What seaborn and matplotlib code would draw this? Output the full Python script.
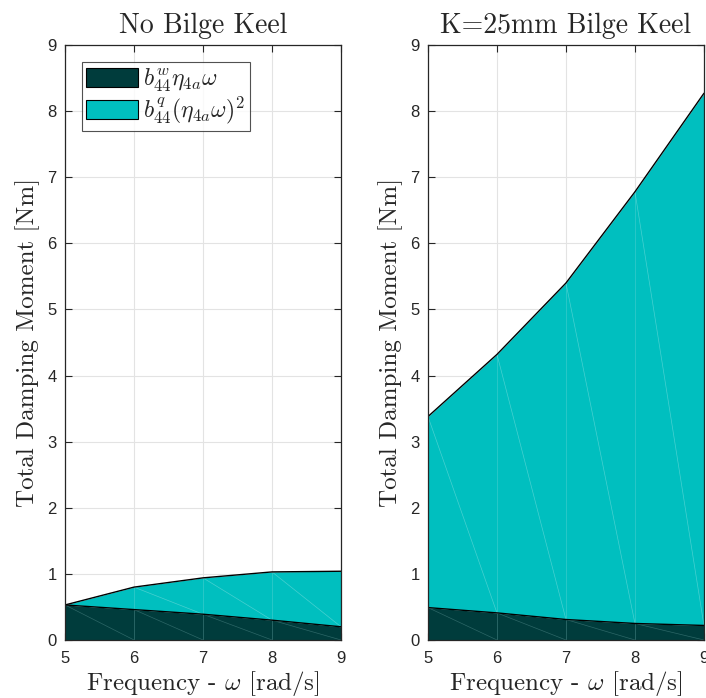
import numpy as np
import pandas as pd
import matplotlib
matplotlib.use("Agg")
import matplotlib.pyplot as plt
import seaborn as sns
from matplotlib.patches import Patch

# Roll damping moment components vs. frequency
freq = [5, 6, 7, 8, 9]
linear_no_keel = [0.53, 0.46, 0.39, 0.30, 0.20]
quad_no_keel = [0.00, 0.34, 0.55, 0.73, 0.84]
linear_keel = [0.49, 0.41, 0.31, 0.25, 0.22]
quad_keel = [2.89, 3.91, 5.09, 6.53, 8.05]

titles = ["No Bilge Keel", "K=25mm Bilge Keel"]
legend_labels = [r"$b_{44}^{w}\eta_{4a}\omega$", r"$b_{44}^{q}(\eta_{4a}\omega)^2$"]
x_label = r"Frequency - $\omega$ [rad/s]"
y_label = "Total Damping Moment [Nm]"
dark = "#003c3c"
cyan = "#00bfbf"
serif = "cmr10"

sns.set_theme(style="whitegrid")
plt.rcParams["font.family"] = ["Liberation Sans", "DejaVu Sans"]
plt.rcParams["mathtext.fontset"] = "cm"
plt.rcParams["axes.formatter.use_mathtext"] = False

frames = []
for case, lin, quad in [(titles[0], linear_no_keel, quad_no_keel),
                        (titles[1], linear_keel, quad_keel)]:
    frames.append(pd.DataFrame({"case": case, "freq": freq,
                                "linear": lin, "quad": quad}))
df = pd.concat(frames, ignore_index=True)
df["total"] = df["linear"] + df["quad"]

fig = plt.figure(figsize=(7.06, 6.98), dpi=100)
axes = [fig.add_axes([0.0921, 0.0831, 0.3909, 0.8524]),
        fig.add_axes([0.6062, 0.0831, 0.3909, 0.8524])]

for ax, case in zip(axes, titles):
    d = df[df["case"] == case]
    x = d["freq"].to_numpy()
    lin = d["linear"].to_numpy()
    tot = d["total"].to_numpy()

    ax.fill_between(x, 0, lin, color=dark, linewidth=0, zorder=2)
    ax.fill_between(x, lin, tot, color=cyan, linewidth=0, zorder=2)

    # faint triangulation seams of the stacked patches
    for i in range(len(x) - 1):
        ax.plot([x[i], x[i + 1]], [lin[i], 0], color="#7fb5b5",
                lw=0.5, alpha=0.35, zorder=3)
        ax.plot([x[i], x[i + 1]], [tot[i], lin[i + 1]], color="#9fe6e6",
                lw=0.5, alpha=0.45, zorder=3)
        if i > 0:
            ax.plot([x[i], x[i]], [0, tot[i]], color="#9fe0e0",
                    lw=0.5, alpha=0.35, zorder=3)

    sns.lineplot(x=x, y=lin, ax=ax, color="black", lw=1.0, zorder=4)
    sns.lineplot(x=x, y=tot, ax=ax, color="black", lw=1.0, zorder=4)

    ax.set_xlim(5, 9)
    ax.set_ylim(0, 9)
    ax.set_xticks(range(5, 10))
    ax.set_yticks(range(0, 10))
    ax.set_facecolor("white")
    ax.grid(True, color="#e3e3e3", lw=0.8)
    ax.set_axisbelow(True)
    for s in ax.spines.values():
        s.set_color("#262626")
        s.set_linewidth(0.9)
        s.set_zorder(5)
    ax.tick_params(direction="in", length=5, width=0.8, color="#262626",
                   labelsize=12, labelcolor="#262626", top=True, right=True,
                   bottom=True, left=True)
    ax.tick_params(axis="x", pad=8)
    ax.tick_params(axis="y", pad=6)
    ax.set_title(case, fontsize=20, fontfamily=serif, pad=9)
    ax.set_xlabel(x_label, fontsize=18, fontfamily=serif, labelpad=2)
    ax.set_ylabel(y_label, fontsize=18, fontfamily=serif, labelpad=5)

handles = [Patch(facecolor=dark, edgecolor="black", lw=0.8),
           Patch(facecolor=cyan, edgecolor="black", lw=0.8)]
leg = axes[0].legend(handles, legend_labels, loc="upper left",
                     bbox_to_anchor=(0.06, 0.971), fontsize=17, frameon=True,
                     fancybox=False, borderpad=0.2, handlelength=2.2,
                     handleheight=0.85, handletextpad=0.2, labelspacing=0.05,
                     borderaxespad=0)
leg.get_frame().set_edgecolor("#262626")
leg.get_frame().set_linewidth(0.8)

fig.savefig("out.png", dpi=100)
